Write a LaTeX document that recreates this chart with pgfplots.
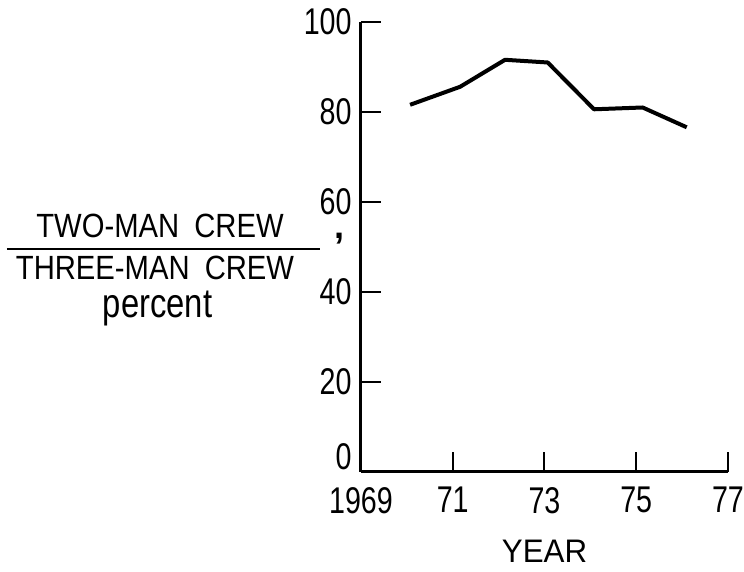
\documentclass[border=0pt]{standalone}
\usepackage{fontspec}
\setmainfont{Liberation Sans}
\newfontfamily\condfont{Liberation Sans}[FakeStretch=0.77]
\newfontfamily\labfont{Liberation Sans}[FakeStretch=0.87]
\newfontfamily\pctfont{Liberation Sans}[FakeStretch=0.8]
\newfontfamily\yearfont{Liberation Sans}[FakeStretch=0.96]
\usepackage{pgfplots}
\pgfplotsset{compat=1.18}
\begin{document}
\begin{tikzpicture}
\useasboundingbox (-180.5pt,-50pt) rectangle (191.5pt,236pt);
\begin{axis}[
  at={(0pt,0pt)}, anchor=south west,
  scale only axis,
  width=183.5pt, height=225pt,
  xmin=1969, xmax=1977, ymin=0, ymax=100,
  axis x line=bottom, axis y line=left,
  axis line style={-, line width=1.5pt},
  xtick={1969,1971,1973,1975,1977},
  xticklabels={1969,71,73,75,77},
  ytick={20,40,60,80,100},
  extra y ticks={0},
  extra y tick style={yticklabel style={yshift=7.5pt}},
  tick align=inside,
  major tick length=10pt,
  every tick/.style={black, line width=1pt},
  /pgf/number format/assume math mode=true,
  ticklabel style={font=\condfont\fontsize{18.6}{20}\selectfont, inner sep=0pt},
  yticklabel style={anchor=east, xshift=-4.5pt},
  xticklabel style={anchor=north, yshift=-7.5pt},
  clip=false,
]
\addplot[black, line width=2pt, line join=round] coordinates {
  (1970.07,81.6) (1971.16,85.6) (1972.14,91.6) (1973.07,91.0)
  (1974.08,80.6) (1975.14,81.0) (1976.10,76.6)
};
\end{axis}
\node[anchor=base, inner sep=0pt, font=\labfont\fontsize{16.8}{18}\selectfont] at (-100.5pt,117.2pt) {TWO-MAN\hspace{0.45em}CREW};
\draw[line width=1pt] (-177pt,111.3pt) -- (-20.5pt,111.3pt);
\node[anchor=base, inner sep=0pt, font=\labfont\fontsize{16.8}{18}\selectfont] at (-103pt,96pt) {THREE-MAN\hspace{0.45em}CREW};
\node[anchor=base, inner sep=0pt, font=\pctfont\fontsize{20.5}{22}\selectfont] at (-101.75pt,77pt) {percent};
\node[anchor=base, inner sep=0pt, font=\bfseries\fontsize{18}{18}\selectfont] at (-11pt,116.5pt) {,};
\node[anchor=base, inner sep=0pt, font=\yearfont\fontsize{16.3}{18}\selectfont] at (91.75pt,-45.5pt) {YEAR};
\end{tikzpicture}
\end{document}
